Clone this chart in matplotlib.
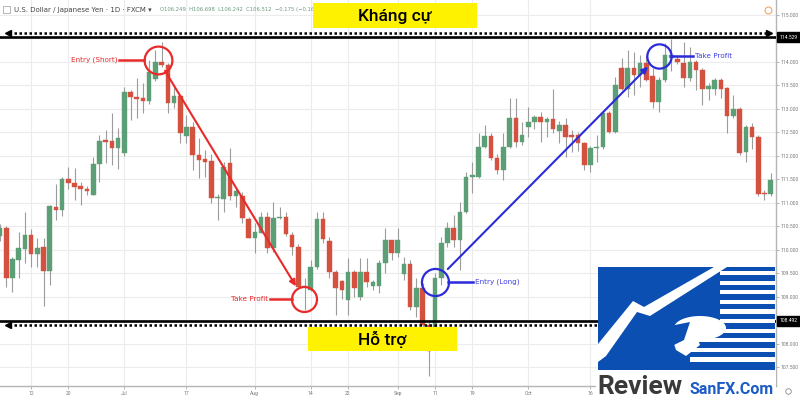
import numpy as np
import matplotlib
matplotlib.use("Agg")
import matplotlib.pyplot as plt
from matplotlib.patches import Rectangle, Polygon, Ellipse
from matplotlib.transforms import blended_transform_factory

# daily USD/JPY candles, Jun 5 -> Nov 24 (index = trading day)
opens = [110.30, 110.47, 109.40, 109.79, 110.02, 110.32, 109.91, 110.06, 109.55, 110.91,
         110.85, 111.51, 111.43, 111.36, 111.30, 111.17, 111.83, 112.34, 112.32, 112.17,
         112.06, 113.36, 113.26, 113.23, 113.17, 113.64, 114.00, 113.94, 113.13, 113.28,
         112.43, 112.62, 112.02, 111.94, 111.89, 111.11, 111.09, 111.85, 111.15, 111.15,
         110.66, 110.26, 110.36, 110.70, 110.04, 110.68, 110.70, 110.32, 110.06, 109.21,
         109.15, 109.64, 110.66, 110.19, 109.53, 109.34, 108.94, 109.53, 109.00, 109.53,
         109.23, 109.23, 109.72, 110.21, 109.94, 109.49, 109.70, 108.79, 109.19, 108.40,
         108.05, 109.40, 110.15, 110.47, 110.21, 110.81, 111.55, 111.55, 112.19, 112.43,
         111.96, 111.70, 112.19, 112.81, 112.30, 112.62, 112.72, 112.83, 112.72, 112.79,
         112.53, 112.66, 112.45, 112.45, 112.28, 111.81, 112.17, 112.19, 112.91, 112.51,
         113.87, 113.43, 113.87, 113.72, 113.98, 113.70, 113.15, 113.62, 114.09, 114.06,
         113.97, 113.67, 113.99, 113.84, 113.42, 113.42, 113.62, 113.44, 112.85, 113.01,
         112.09, 112.61, 112.41, 111.21, 111.19]
highs = [110.55, 110.50, 109.85, 110.38, 110.81, 110.45, 110.26, 110.26, 110.96, 111.40,
         111.55, 111.77, 111.74, 111.45, 111.36, 111.98, 112.45, 112.55, 112.91, 112.60,
         113.47, 113.40, 113.66, 113.55, 114.04, 114.26, 114.43, 113.98, 113.47, 113.30,
         112.87, 112.72, 112.38, 112.13, 112.04, 111.20, 111.87, 112.17, 111.34, 111.23,
         110.70, 110.57, 110.81, 110.81, 111.02, 110.91, 110.81, 110.38, 110.13, 109.40,
         109.79, 110.81, 110.81, 110.28, 109.57, 109.36, 109.83, 109.57, 109.83, 109.83,
         109.36, 109.79, 110.47, 110.21, 110.47, 109.85, 109.79, 109.40, 109.30, 108.50,
         109.50, 110.28, 110.60, 110.74, 111.02, 111.66, 111.87, 112.49, 112.66, 112.49,
         112.05, 112.49, 113.23, 113.23, 112.72, 113.04, 112.87, 112.94, 112.83, 113.43,
         112.74, 112.81, 112.55, 112.51, 112.30, 112.21, 112.45, 112.96, 112.96, 113.68,
         114.09, 114.26, 114.21, 114.15, 114.15, 113.87, 113.68, 114.40, 114.49, 114.15,
         114.43, 114.32, 114.05, 113.87, 113.55, 113.66, 113.66, 113.47, 113.30, 113.04,
         112.66, 112.70, 112.45, 111.28, 111.64]
lows = [110.20, 109.21, 109.11, 109.40, 109.72, 109.64, 109.64, 108.81, 109.26, 110.64,
        110.72, 111.30, 111.06, 110.96, 111.17, 111.17, 111.45, 111.85, 111.81, 111.72,
        112.00, 112.77, 112.81, 112.91, 113.10, 113.60, 113.89, 112.91, 113.02, 112.28,
        112.28, 111.70, 111.53, 111.55, 111.00, 110.64, 110.81, 111.06, 110.91, 110.57,
        110.26, 109.94, 110.36, 109.94, 109.96, 110.66, 110.30, 109.89, 109.21, 108.72,
        109.13, 109.60, 110.15, 109.40, 108.62, 108.96, 108.62, 109.00, 108.94, 109.21,
        109.15, 109.08, 109.51, 109.79, 109.85, 109.36, 108.72, 108.57, 108.30, 107.32,
        107.95, 109.26, 110.06, 110.06, 109.57, 110.78, 111.21, 111.53, 112.17, 111.91,
        111.62, 111.49, 112.17, 112.19, 112.23, 112.40, 112.57, 112.30, 112.40, 112.49,
        112.28, 111.98, 112.09, 112.11, 111.70, 111.66, 111.87, 112.15, 112.49, 112.49,
        113.40, 113.26, 113.30, 113.47, 113.60, 113.02, 112.94, 113.57, 113.81, 113.96,
        113.47, 113.60, 113.40, 113.09, 113.19, 113.30, 113.23, 112.48, 112.80, 112.02,
        111.88, 112.15, 111.15, 111.07, 111.15]
closes = [110.47, 109.40, 109.81, 110.04, 110.32, 109.91, 110.04, 109.55, 110.94, 110.85,
          111.51, 111.43, 111.34, 111.30, 111.26, 111.83, 112.32, 112.30, 112.17, 112.38,
          113.36, 113.26, 113.21, 113.17, 113.79, 114.00, 113.94, 113.13, 113.28, 112.49,
          112.62, 112.02, 111.91, 111.87, 111.11, 111.13, 111.77, 111.15, 111.26, 110.68,
          110.26, 110.38, 110.70, 110.04, 110.68, 110.70, 110.34, 110.06, 109.21, 109.23,
          109.64, 110.66, 110.23, 109.53, 109.19, 109.15, 109.53, 109.19, 109.53, 109.32,
          109.32, 109.72, 110.21, 109.94, 110.21, 109.70, 108.79, 109.19, 108.40, 107.85,
          109.40, 110.15, 110.47, 110.21, 110.81, 111.55, 111.60, 112.19, 112.43, 111.96,
          111.70, 112.19, 112.81, 112.30, 112.45, 112.72, 112.83, 112.72, 112.79, 112.57,
          112.66, 112.40, 112.40, 112.28, 111.81, 112.17, 112.19, 112.91, 112.51, 113.51,
          113.43, 113.87, 113.72, 113.98, 113.62, 113.15, 113.62, 114.15, 114.15, 114.00,
          113.67, 113.99, 113.84, 113.42, 113.49, 113.62, 113.42, 112.85, 113.01, 112.06,
          112.61, 112.41, 111.19, 111.19, 111.49]

tick_idx = [5, 11, 20, 30, 41, 50, 56, 64, 70, 76, 85, 95]
tick_lbl = ["12", "20", "Jul", "17", "Aug", "14", "22", "Sep", "11", "19", "Oct", "16"]

resistance = 114.529
support = 108.492

# trade annotations: (index, price)
short_entry = (25.5, 114.04)
short_tp = (48.9, 108.95)
long_entry = (70.0, 109.32)
long_tp = (106.0, 114.13)

UP, DOWN, WICK = "#5c9f76", "#d4513f", "#9c9c9c"
RED, BLUE = "#e82a2a", "#2b2bd9"
SMALL = ["Roboto", "DejaVu Sans"]

PX = 1 / 6.215  # one pixel in index units

fig = plt.figure(figsize=(8, 4), dpi=100)
ax = fig.add_axes([0, 14 / 400, 776 / 800, 386 / 400])

o = np.array(opens); h = np.array(highs); l = np.array(lows); c = np.array(closes)
x = np.arange(len(o))
col = np.where(c >= o, UP, DOWN)

ax.vlines(x, l, h, color=WICK, lw=0.8, zorder=2)
ax.bar(x, np.maximum(np.abs(c - o), 0.025), bottom=np.minimum(o, c), width=0.74,
       color=col, edgecolor=col, lw=0.3, zorder=3)

ax.set_xlim(0, 776 * PX)
ax.set_ylim(107.106, 115.319)

ax.yaxis.tick_right()
yt = np.arange(107.5, 115.01, 0.5)
ax.set_yticks(yt)
# the marked levels hide the labels next to them
ax.set_yticklabels(["" if abs(v - resistance) < 0.1 or abs(v - support) < 0.1 else f"{v:.3f}"
                    for v in yt], family=SMALL)
ax.set_xticks(tick_idx)
ax.set_xticklabels(tick_lbl, family=SMALL)
ax.tick_params(axis="both", labelsize=3.6, labelcolor="#777777", color="#aaaaaa",
               length=2, width=0.6, pad=1.5)
ax.grid(True, color="#ececec", lw=0.8, zorder=0)
for s in ["top", "left"]:
    ax.spines[s].set_visible(False)
for s in ["right", "bottom"]:
    ax.spines[s].set_color("#b5b5b5")
    ax.spines[s].set_linewidth(1.0)

# support / resistance
for lvl, off in [(resistance, 0.09), (support, -0.09)]:
    ax.axhline(lvl, color="black", lw=1.9, zorder=5)
    ax.plot([1.5, 123.5], [lvl + off] * 2, color="black", lw=1.8,
            ls=(0, (1, 1)), zorder=5)
    ax.plot([1.3], [lvl + off], marker="<", color="black", ms=4.5, zorder=6)
    ax.plot([123.8], [lvl + off], marker=">", color="black", ms=4.5, zorder=6)
    ax.text(1.004, lvl, f"{lvl:.3f}", transform=blended_transform_factory(ax.transAxes, ax.transData),
            fontsize=3.6, family=SMALL, color="white", va="center", ha="left", clip_on=False,
            bbox=dict(boxstyle="square,pad=0.5", fc="black", ec="black"), zorder=7)

# short trade (red)
ax.plot(*short_entry, marker="o", ms=20, mfc="none", mec=RED, mew=1.6, zorder=8)
ax.plot(*short_tp, marker="o", ms=18, mfc="none", mec=RED, mew=1.6, zorder=8)
ax.annotate("", xy=short_tp, xytext=short_entry,
            arrowprops=dict(arrowstyle="-|>", color=RED, lw=1.5, mutation_scale=9,
                            shrinkA=9, shrinkB=11), zorder=8)
ax.plot([short_entry[0] - 39 * PX, short_entry[0] - 14 * PX], [short_entry[1]] * 2,
        color=RED, lw=1.8, zorder=8)
ax.text(short_entry[0] - 41 * PX, short_entry[1] + 0.01, "Entry (Short)", color=RED,
        fontsize=5.2, ha="right", va="center", zorder=8)
ax.plot([short_tp[0] - 34 * PX, short_tp[0] - 12 * PX], [short_tp[1]] * 2,
        color=RED, lw=1.8, zorder=8)
ax.text(short_tp[0] - 36 * PX, short_tp[1], "Take Profit", color=RED,
        fontsize=5.2, ha="right", va="center", zorder=8)

# long trade (blue)
ax.plot(*long_entry, marker="o", ms=19.5, mfc="none", mec=BLUE, mew=1.6, zorder=8)
ax.plot(*long_tp, marker="o", ms=17.5, mfc="none", mec=BLUE, mew=1.6, zorder=8)
ax.annotate("", xy=long_tp, xytext=long_entry,
            arrowprops=dict(arrowstyle="-|>", color=BLUE, lw=1.5, mutation_scale=9,
                            shrinkA=13, shrinkB=11), zorder=8)
ax.plot([long_entry[0] + 13 * PX, long_entry[0] + 38 * PX], [long_entry[1]] * 2,
        color=BLUE, lw=1.8, zorder=8)
ax.text(long_entry[0] + 40 * PX, long_entry[1], "Entry (Long)", color="#4040e0",
        fontsize=5.2, ha="left", va="center", zorder=8)
ax.plot([long_tp[0] + 12 * PX, long_tp[0] + 34 * PX], [long_tp[1]] * 2,
        color=BLUE, lw=1.8, zorder=8)
ax.text(long_tp[0] + 36 * PX, long_tp[1], "Take Profit", color="#4040e0",
        fontsize=5.2, ha="left", va="center", zorder=8)

# overlay in pixel space for header, labels and logo
ov = fig.add_axes([0, 0, 1, 1], facecolor="none")
ov.set_xlim(0, 800)
ov.set_ylim(400, 0)
ov.axis("off")

ov.add_patch(Rectangle((3, 6), 7, 7, fc="none", ec="#aaaaaa", lw=0.6))
ov.text(14, 10, "U.S. Dollar / Japanese Yen · 1D · FXCM ▾", fontsize=5, color="#444444",
        va="center", ha="left")
ov.text(160, 10, "O106.249  H106.698  L106.242  C106.512  −0.175 (−0.16%)", fontsize=3.8,
        color="#6b9a7c", va="center", ha="left")
ov.plot([768], [10], marker="o", ms=5, mfc="none", mec="#f0a868", mew=0.8)

ov.add_patch(Rectangle((313, 3), 164, 25, fc="#fff200", ec="none", zorder=3))
ov.text(395, 16, "Kháng cự", fontsize=12.5, family=["Roboto", "DejaVu Sans"],
        weight="medium", color="black", ha="center", va="center", zorder=4)
ov.add_patch(Rectangle((308, 327), 149, 24, fc="#fff200", ec="none", zorder=3))
ov.text(382, 339.5, "Hỗ trợ", fontsize=12.5, family=["Roboto", "DejaVu Sans"],
        weight="medium", color="black", ha="center", va="center", zorder=4)

# logo
LB = "#0c4fb3"
ov.add_patch(Rectangle((598, 267), 177, 103, fc=LB, ec="none", zorder=5))
ov.add_patch(Polygon([(598, 344), (633, 301), (644, 307), (714, 267), (727, 267),
                      (650, 316), (637, 312), (606, 356), (598, 362)],
                     closed=True, fc="white", ec="none", zorder=6))
for yy in np.arange(271, 366, 9.6):
    x0 = 720 if yy < 335 else 690
    ov.add_patch(Rectangle((x0, yy), 775 - x0, 4.2, fc="white", ec="none", zorder=6))
ov.add_patch(Ellipse((700, 328), 52, 24, fc="white", ec="none", zorder=6))
ov.add_patch(Polygon([(670, 332), (690, 318), (700, 345), (686, 356), (676, 350)],
                     closed=True, fc="white", ec="none", zorder=6))
ov.add_patch(Polygon([(650, 330), (690, 322), (684, 340), (660, 352), (640, 368), (598, 370)],
                     closed=True, fc=LB, ec="none", zorder=7))
ov.add_patch(Rectangle((596, 371), 180, 28, fc="white", ec="none", zorder=7))
ov.text(597, 393.5, "Review", fontsize=19, weight="bold", color="#3a3a3a",
        family=["Roboto", "DejaVu Sans"], ha="left", va="baseline", zorder=8)
ov.text(690, 393.5, "SanFX.Com", fontsize=11.5, weight="bold", color="#1d5cc4",
        family=["Roboto", "DejaVu Sans"], ha="left", va="baseline", zorder=8)
ov.plot([788], [391], marker="o", ms=4, mfc="none", mec="#999999", mew=0.7)

fig.savefig("out.png", dpi=100)
